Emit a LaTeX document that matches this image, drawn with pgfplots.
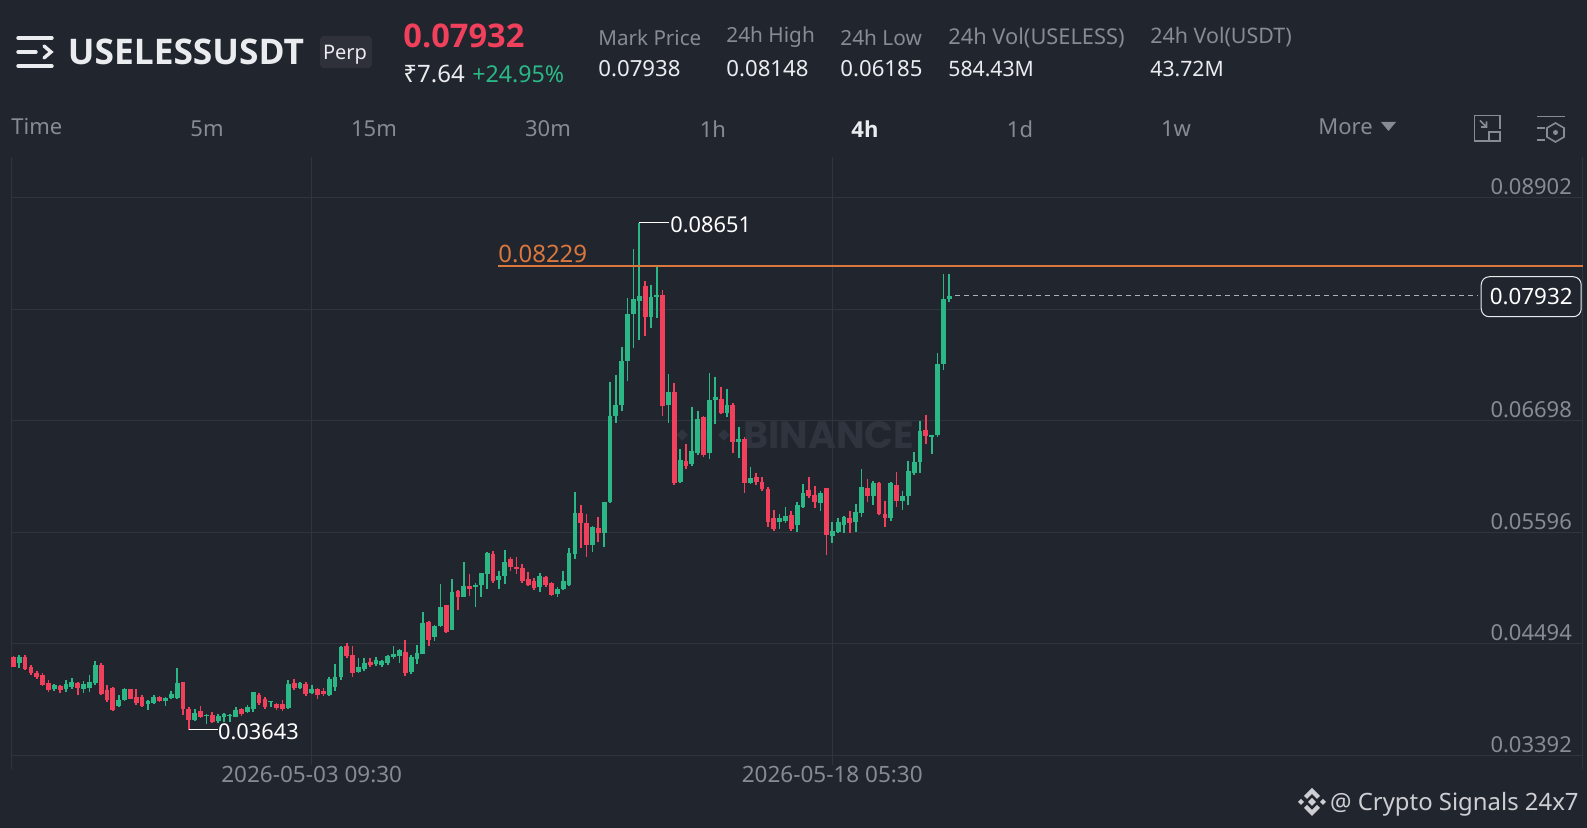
\documentclass[border=0pt]{standalone}
\usepackage{pgfplots}
\usepackage{pgfplotstable}
\usepackage{fontspec}
\pgfplotsset{compat=1.18}
\setmainfont{Noto Sans}
\newfontfamily\wmfont{Poppins}
\newfontfamily\ob{Open Sans}
\definecolor{bg}{HTML}{21252E}
\definecolor{gridc}{HTML}{30343E}
\definecolor{cg}{HTML}{2BB886}
\definecolor{cr}{HTML}{F0405C}
\definecolor{txt}{HTML}{EAECEF}
\definecolor{gry}{HTML}{878B94}
\definecolor{org}{HTML}{D9773D}
\definecolor{wm}{HTML}{30343E}
\pgfplotstableread{
i o h l c
1 .04300 .04382 .04250 .04366
7 .04043 .04096 .04023 .04083
9 .04043 .04135 .04017 .04096
10 .04069 .04152 .04043 .04115
12 .04050 .04125 .04010 .04096
13 .04053 .04181 .04020 .04119
14 .04102 .04320 .04086 .04280
18 .03878 .03984 .03865 .03938
19 .03938 .04053 .03928 .04050
23 .03898 .03938 .03839 .03928
24 .03911 .03984 .03898 .03964
26 .03931 .03964 .03878 .03954
27 .03957 .04027 .03951 .03997
28 .03954 .04254 .03951 .04109
31 .03740 .03845 .03733 .03806
33 .03780 .03799 .03700 .03793
35 .03733 .03799 .03714 .03780
36 .03773 .03809 .03724 .03799
37 .03780 .03799 .03724 .03789
38 .03773 .03865 .03766 .03839
40 .03819 .03891 .03806 .03872
41 .03852 .04020 .03822 .04013
44 .03915 .03931 .03872 .03928
47 .03859 .04135 .03852 .04092
49 .04053 .04119 .04043 .04102
51 .04010 .04086 .03997 .04050
54 .03984 .04168 .03977 .04148
55 .04069 .04293 .04030 .04168
56 .04168 .04471 .04135 .04465
59 .04218 .04356 .04201 .04267
60 .04247 .04349 .04227 .04306
62 .04293 .04366 .04274 .04333
63 .04287 .04333 .04260 .04320
64 .04306 .04382 .04283 .04372
65 .04359 .04471 .04339 .04392
66 .04372 .04438 .04300 .04432
68 .04218 .04382 .04194 .04366
69 .04346 .04481 .04290 .04399
70 .04392 .04807 .04389 .04702
72 .04557 .04679 .04521 .04672
73 .04669 .05084 .04662 .04860
75 .04629 .05130 .04629 .05005
77 .04952 .05301 .04952 .05064
79 .05051 .05097 .04853 .05077
80 .05071 .05196 .04959 .05189
81 .05183 .05400 .05038 .05393
83 .05123 .05216 .05038 .05163
84 .05163 .05420 .05084 .05301
90 .05051 .05196 .05001 .05163
93 .04985 .05051 .04959 .05038
94 .05031 .05216 .05025 .05110
95 .05074 .05436 .05067 .05387
96 .05380 .05990 .05334 .05782
99 .05469 .05657 .05403 .05644
101 .05584 .05897 .05453 .05897
102 .05897 .07083 .05888 .06744
103 .06744 .07149 .06678 .06853
104 .06853 .07422 .06793 .07291
105 .07291 .07907 .07090 .07752
106 .07752 .08397 .07419 .07897
107 .07884 .08651 .07495 .07930
109 .07719 .08038 .07617 .07923
110 .07917 .08226 .07709 .07940
112 .06853 .07159 .06671 .06984
114 .06095 .06415 .06085 .06309
116 .06270 .06830 .06250 .06401
117 .06375 .06797 .06359 .06711
119 .06375 .07166 .06316 .06902
120 .06902 .07133 .06665 .06928
122 .06770 .07007 .06737 .06853
124 .06490 .06639 .06326 .06513
126 .06079 .06243 .06072 .06128
131 .05700 .05776 .05624 .05733
132 .05710 .05841 .05690 .05756
134 .05667 .05897 .05601 .05864
135 .05848 .06072 .05832 .05980
138 .05887 .06000 .05808 .05980
140 .05558 .05700 .05492 .05611
141 .05601 .05733 .05584 .05700
142 .05667 .05756 .05584 .05743
144 .05700 .05874 .05601 .05799
145 .05789 .06220 .05749 .06046
147 .05953 .06105 .05864 .06085
150 .05733 .06095 .05710 .06079
152 .05907 .06006 .05815 .05953
153 .05953 .06302 .05864 .06204
154 .06184 .06392 .06161 .06293
155 .06293 .06691 .06177 .06592
157 .06540 .06559 .06368 .06553
158 .06553 .07363 .06533 .07258
159 .07258 .08147 .07198 .07897
160 .07895 .08147 .07874 .07932
}\greentable
\pgfplotstableread{
i o h l c
0 .04366 .04372 .04260 .04267
2 .04359 .04379 .04234 .04241
3 .04260 .04283 .04185 .04201
4 .04208 .04227 .04142 .04168
5 .04181 .04201 .04076 .04086
6 .04102 .04135 .04020 .04036
8 .04079 .04089 .04010 .04036
11 .04109 .04115 .03990 .04056
15 .04280 .04300 .03990 .03997
16 .04036 .04086 .03921 .03938
17 .04056 .04069 .03826 .03839
20 .04043 .04050 .03944 .03951
21 .03964 .04043 .03888 .03905
22 .03964 .03990 .03865 .03878
25 .03964 .03980 .03915 .03924
29 .04115 .04115 .03789 .03845
30 .03845 .03872 .03643 .03740
32 .03826 .03878 .03756 .03773
34 .03789 .03816 .03707 .03724
39 .03845 .03859 .03783 .03799
42 .03990 .04007 .03885 .03905
43 .03944 .03964 .03845 .03872
45 .03901 .03911 .03839 .03859
46 .03898 .03934 .03832 .03845
48 .04102 .04145 .04036 .04056
50 .04096 .04115 .03977 .03997
52 .04043 .04059 .03944 .03990
53 .04030 .04059 .03977 .03997
57 .04471 .04498 .04356 .04372
58 .04382 .04474 .04168 .04208
61 .04316 .04349 .04267 .04283
67 .04415 .04530 .04178 .04208
71 .04712 .04721 .04474 .04530
74 .04873 .04876 .04596 .04613
76 .05011 .05025 .04827 .04952
78 .05064 .05179 .04965 .05038
82 .05380 .05410 .05097 .05117
85 .05334 .05347 .05216 .05249
86 .05249 .05354 .05183 .05229
87 .05242 .05278 .05090 .05117
88 .05130 .05206 .05064 .05077
89 .05110 .05146 .05025 .05044
91 .05156 .05166 .05057 .05071
92 .05097 .05107 .04965 .04975
97 .05782 .05864 .05436 .05683
98 .05690 .05772 .05354 .05469
100 .05634 .05749 .05502 .05584
108 .08029 .08081 .07534 .07725
111 .07940 .07989 .06747 .06843
113 .06984 .07073 .06062 .06085
115 .06303 .06467 .06217 .06250
118 .06731 .06744 .06342 .06359
121 .06909 .07034 .06764 .06777
123 .06856 .06869 .06375 .06490
125 .06520 .06533 .05980 .06079
127 .06138 .06184 .06062 .06095
128 .06095 .06144 .06006 .06019
129 .06026 .06039 .05650 .05700
130 .05733 .05815 .05611 .05624
133 .05766 .05808 .05611 .05624
136 .06013 .06144 .05930 .05953
137 .05963 .06052 .05832 .05897
139 .06029 .06032 .05367 .05568
143 .05733 .05808 .05584 .05683
146 .06029 .06125 .05897 .05953
148 .06085 .06095 .05766 .05776
149 .05776 .05907 .05650 .05733
151 .06062 .06190 .05848 .05907
156 .06606 .06754 .06467 .06546
}\redtable
\begin{document}
\begin{tikzpicture}
\fill[bg] (0,0) rectangle (793.5pt,414pt);
\useasboundingbox (0,0) rectangle (793.5pt,414pt);
\tikzset{px/.style={shift={(0pt,414pt)},x=0.5pt,y=-0.5pt}}
\begin{scope}[px]
  \node[anchor=west,inner sep=0pt,text=wm,font=\wmfont\bfseries\fontsize{19}{19}\selectfont] at (743,435) {BINANCE};
  \begin{scope}[shift={(703,435)},scale=1.9,wm]
    \fill (0,-4)--(4,0)--(0,4)--(-4,0)--cycle;
    \fill (-11,-3)--(-8,0)--(-11,3)--(-14,0)--cycle;
    \fill (11,-3)--(14,0)--(11,3)--(8,0)--cycle;
  \end{scope}
\end{scope}
\begin{axis}[
  at={(5.85pt,29.5pt)},anchor=south west,
  scale only axis,width=785.5pt,height=306pt,
  xmin=-0.29,xmax=268.3,ymin=0.03256,ymax=0.09303,
  separate axis lines,
  x axis line style={draw=none},
  y axis line style={draw=gridc,line width=0.5pt},
  grid=major,grid style={draw=gridc,line width=0.5pt},
  major tick length=0pt,
  scaled y ticks=false,
  xtick={51,140},
  xticklabels={2026-05-03 09:30,2026-05-18 05:30},
  xticklabel style={anchor=center,yshift=-3pt,text=gry,fill=bg,inner sep=1pt,font=\fontsize{11.25}{12}\selectfont},
  ytick={0.03392,0.04494,0.05596,0.06698,0.07800,0.08902},
  yticklabels={0.03392,0.04494,0.05596,0.06698,,0.08902},
  yticklabel pos=right,
  yticklabel style={anchor=east,xshift=-5.2pt,yshift=5.4pt,text=gry,inner sep=0pt,font=\fontsize{11}{12}\selectfont},
  clip=false,
]
\addplot[draw=none,forget plot,error bars/.cd,y dir=minus,y explicit,error mark=none,error bar style={line width=0.85pt,color=cg}]
  table[x=i,y=h,y error minus expr=\thisrow{h}-\thisrow{l}] {\greentable};
\addplot[draw=none,forget plot,error bars/.cd,y dir=minus,y explicit,error mark=none,error bar style={line width=2.4pt,color=cg}]
  table[x=i,y=c,y error minus expr=\thisrow{c}-\thisrow{o}] {\greentable};
\addplot[draw=none,forget plot,error bars/.cd,y dir=minus,y explicit,error mark=none,error bar style={line width=0.85pt,color=cr}]
  table[x=i,y=h,y error minus expr=\thisrow{h}-\thisrow{l}] {\redtable};
\addplot[draw=none,forget plot,error bars/.cd,y dir=minus,y explicit,error mark=none,error bar style={line width=2.4pt,color=cr}]
  table[x=i,y=o,y error minus expr=\thisrow{o}-\thisrow{c}] {\redtable};
\addplot[org,line width=1pt,forget plot] coordinates {(82.85,0.08229)(268.3,0.08229)};
\node[anchor=south west,inner sep=0pt,text=org,font=\fontsize{12}{13}\selectfont] at (axis cs:82.85,0.08255) {0.08229};
\addplot[txt!70!bg,line width=0.4pt,dash pattern=on 2.5pt off 2pt,forget plot] coordinates {(161,0.07932)(250.4,0.07932)};
\node[draw=txt,fill=bg,rounded corners=4pt,line width=0.5pt,text=white,inner sep=0pt,minimum width=50pt,minimum height=20pt,font=\fontsize{11.2}{12}\selectfont] at (axis cs:259.5,0.07922) {0.07932};
\addplot[white,line width=0.5pt,forget plot] coordinates {(107,0.08651)(112.1,0.08651)};
\node[anchor=west,inner sep=1pt,text=white,font=\fontsize{10.9}{12}\selectfont] at (axis cs:111.9,0.08632) {0.08651};
\addplot[white,line width=0.5pt,forget plot] coordinates {(30,0.03643)(35,0.03643)};
\node[anchor=west,inner sep=1pt,text=white,font=\fontsize{10.9}{12}\selectfont] at (axis cs:34.6,0.03620) {0.03643};
\end{axis}
\begin{scope}[px]
  \draw[txt,line width=1.7pt,line cap=round] (18,38)--(52,38) (18,52)--(36,52) (18,66)--(52,66);
  \draw[txt,line width=1.7pt,line cap=round] (44,46)--(51,52)--(44,58);
  \node[anchor=west,inner sep=0pt,text=txt,font=\ob\bfseries\fontsize{17.65}{19}\selectfont] at (67.5,52) {USELESSUSDT};
  \fill[fill=white,fill opacity=0.06,rounded corners=2pt] (320,36) rectangle (372,68);
  \node[inner sep=0pt,text=txt,font=\fontsize{10}{12}\selectfont] at (345,55) {Perp};
  \node[anchor=west,inner sep=0pt,text=cr,font=\ob\bfseries\fontsize{16.3}{18}\selectfont] at (403,36) {0.07932};
  \node[anchor=west,inner sep=0pt,text=txt,font=\fontsize{12}{13}\selectfont] at (403,74) {₹7.64};
  \node[anchor=west,inner sep=0pt,text=cg,font=\fontsize{11.6}{13}\selectfont] at (472,74) {+24.95\%};
  \foreach \x/\a/\s in {598/Mark Price/10.3,726/24h High/10.4,840/24h Low/10.4,948/24h Vol(USELESS)/10.9,1150/24h Vol(USDT)/10.7}{
    \node[anchor=west,inner sep=0pt,text=gry,font=\fontsize{\s}{12}\selectfont] at (\x,37.5) {\a};
  }
  \foreach \x/\b/\s in {598/0.07938/11.1,726/0.08148/11.1,840/0.06185/11.1,948/584.43M/10.6,1150/43.72M/10.6}{
    \node[anchor=west,inner sep=0pt,text=txt,font=\fontsize{\s}{12}\selectfont] at (\x,69) {\b};
  }
  \node[anchor=west,inner sep=0pt,text=gry,font=\fontsize{11}{12}\selectfont] at (11,127) {Time};
  \foreach \x/\a in {207/5m,374/15m,548/30m,713/1h,1020/1d,1176/1w}{
    \node[inner sep=0pt,text=gry,font=\fontsize{11}{12}\selectfont] at (\x,129) {\a};
  }
  \node[inner sep=0pt,text=txt,font=\ob\bfseries\fontsize{11}{12}\selectfont] at (865,129) {4h};
  \node[anchor=west,inner sep=0pt,text=gry,font=\fontsize{11}{12}\selectfont] at (1318,127) {More};
  \fill[gry] (1381,122)--(1396,122)--(1388.5,131)--cycle;
  \draw[gry,line width=0.8pt] (1488,141)--(1474.5,141)--(1474.5,115.5)--(1500,115.5)--(1500,129);
  \draw[gry,line width=0.8pt] (1489,132) rectangle (1500,141);
  \draw[gry,line width=0.8pt] (1480,120.5)--(1486.5,127) (1486.5,121.5)--(1486.5,127)--(1481,127);
  \draw[gry,line width=0.8pt] (1537,116.5)--(1565,116.5) (1537,128)--(1545,128) (1537,140)--(1545,140);
  \draw[gry,line width=0.8pt] (1555.5,123)--(1564,128)--(1564,137)--(1555.5,142)--(1547,137)--(1547,128)--cycle;
  \fill[gry] (1555.5,132.5) circle (2.5);
  \begin{scope}[shift={(1312,802)},fill=txt!85!bg]
    \fill (0,-4)--(4,0)--(0,4)--(-4,0)--cycle;
    \fill (-11,-3)--(-8,0)--(-11,3)--(-14,0)--cycle;
    \fill (11,-3)--(14,0)--(11,3)--(8,0)--cycle;
    \fill (0,-14)--(8,-6)--(5,-3)--(0,-8)--(-5,-3)--(-8,-6)--cycle;
    \fill (0,14)--(8,6)--(5,3)--(0,8)--(-5,3)--(-8,6)--cycle;
  \end{scope}
  \node[anchor=east,inner sep=0pt,text=txt!85!bg,font=\fontsize{11.95}{14}\selectfont] at (1579,804.5) {@ Crypto Signals 24x7};
\end{scope}
\end{tikzpicture}
\end{document}
